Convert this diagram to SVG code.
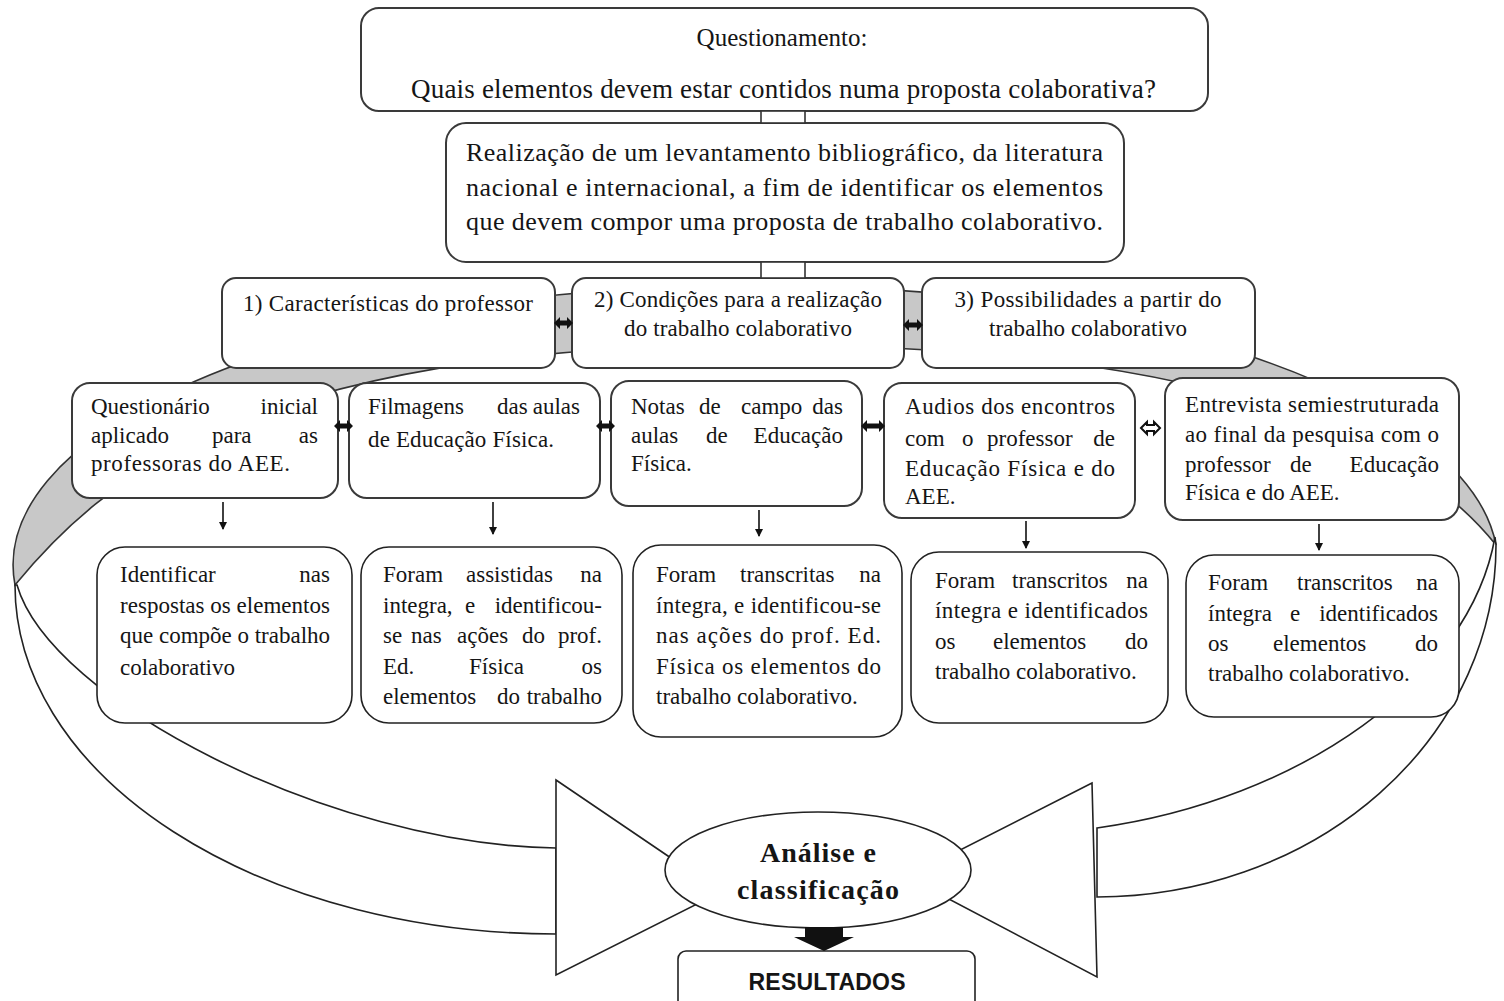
<svg xmlns="http://www.w3.org/2000/svg" width="1504" height="1001" viewBox="0 0 1504 1001">
<defs>
<marker id="ah" markerWidth="10" markerHeight="10" refX="8" refY="5" orient="auto" markerUnits="userSpaceOnUse" viewBox="0 0 10 10">
<path d="M1,1 L9,5 L1,9 Z" fill="#111"/>
</marker>
<style>
.box{fill:#fff;stroke:#3a3a3a;stroke-width:2}
.box2{fill:#fff;stroke:#222;stroke-width:1.6}
.t{font-family:"Liberation Serif","Times New Roman",serif;font-size:23px;fill:#151515}
.tb{font-family:"Liberation Serif","Times New Roman",serif;font-size:28px;font-weight:bold;fill:#151515}
.ts{font-family:"Liberation Sans",Arial,sans-serif;font-size:23px;font-weight:bold;fill:#151515}
.e{text-anchor:end}
.m{text-anchor:middle}
.ln{fill:#fff;stroke:#222;stroke-width:1.6}
.dn{stroke:#111;stroke-width:1.6;fill:none}
.dbl{fill:#111}
</style>
</defs>
<rect width="1504" height="1001" fill="#fff"/>

<g id="ring">
<path d="M 15 585 A 742 280 0 1 1 1496 545 C 1424 455, 1250 345, 757 345 C 250 345, 99 483, 15 585 Z" fill="#c8c8c8" stroke="#333" stroke-width="1.6"/>
<path class="ln" d="M 15 585 A 541 349 0 0 0 556 934 L 556 848 C 330 845, 50 700, 17 585 Z"/>
<path class="ln" d="M 1496 545 A 400 352 0 0 1 1097 897 L 1097 828 C 1300 800, 1470 680, 1495 537 Z"/>
</g>

<g id="bowtie">
<polygon class="ln" points="556,780 721,892 556,975"/>
<polygon class="ln" points="1092,783 907,877 1097,977"/>
</g>

<g id="n-questionamento">
<rect class="box" x="361" y="8" width="847" height="103" rx="18"/>
<text class="t m" x="782" y="46" style="font-size:25px">Questionamento:</text>
<text class="t" x="411" y="98" style="font-size:27px" textLength="745">Quais elementos devem estar contidos numa proposta colaborativa?</text>
</g>

<g id="n-levantamento">
<rect class="box" x="446" y="123" width="678" height="139" rx="20"/>
<text class="t" x="466" y="161" style="font-size:26px" textLength="637">Realização de um levantamento bibliográfico, da literatura</text>
<text class="t" x="466" y="196" style="font-size:26px" textLength="637">nacional e internacional, a fim de identificar os elementos</text>
<text class="t" x="466" y="230" style="font-size:26px" textLength="637">que devem compor uma proposta de trabalho colaborativo.</text>
</g>

<g id="n-caracteristicas">
<rect class="box" x="222" y="278" width="333" height="90" rx="14"/>
<text class="t" x="243" y="311" textLength="290">1) Características do professor</text>
</g>
<g id="n-condicoes">
<rect class="box" x="572" y="278" width="332" height="90" rx="14"/>
<text class="t m" x="738" y="307" textLength="288">2) Condições para a realização</text>
<text class="t m" x="738" y="336" textLength="228">do trabalho colaborativo</text>
</g>
<g id="n-possibilidades">
<rect class="box" x="922" y="278" width="333" height="90" rx="14"/>
<text class="t m" x="1088" y="307" textLength="267">3) Possibilidades a partir do</text>
<text class="t m" x="1088" y="336" textLength="198">trabalho colaborativo</text>
</g>

<g id="n-questionario">
<rect class="box" x="72" y="383" width="266" height="115" rx="18"/>
<text class="t" y="414"><tspan x="91">Questionário</tspan><tspan class="e" x="318">inicial</tspan></text>
<text class="t" y="443"><tspan x="91">aplicado</tspan><tspan x="212">para</tspan><tspan class="e" x="318">as</tspan></text>
<text class="t" x="91" y="471" textLength="199">professoras do AEE.</text>
</g>
<g id="n-filmagens">
<rect class="box" x="349" y="383" width="251" height="115" rx="18"/>
<text class="t" y="414"><tspan x="368">Filmagens</tspan><tspan x="497">das</tspan><tspan class="e" x="580">aulas</tspan></text>
<text class="t" x="368" y="447" textLength="186">de Educação Física.</text>
</g>
<g id="n-notas">
<rect class="box" x="611" y="381" width="251" height="125" rx="18"/>
<text class="t" y="414"><tspan x="631">Notas</tspan><tspan x="699">de</tspan><tspan x="741">campo</tspan><tspan class="e" x="843">das</tspan></text>
<text class="t" y="443"><tspan x="631">aulas</tspan><tspan x="706">de</tspan><tspan class="e" x="843">Educação</tspan></text>
<text class="t" x="631" y="471">Física.</text>
</g>
<g id="n-audios">
<rect class="box" x="884" y="383" width="251" height="135" rx="18"/>
<text class="t" x="905" y="414" textLength="210">Audios dos encontros</text>
<text class="t" y="446"><tspan x="905">com</tspan><tspan x="962">o</tspan><tspan x="987">professor</tspan><tspan class="e" x="1115">de</tspan></text>
<text class="t" x="905" y="476" textLength="210">Educação Física e do</text>
<text class="t" x="905" y="504">AEE.</text>
</g>
<g id="n-entrevista">
<rect class="box" x="1165" y="378" width="294" height="142" rx="18"/>
<text class="t" x="1185" y="412" textLength="254">Entrevista semiestruturada</text>
<text class="t" x="1185" y="442" textLength="254">ao final da pesquisa com o</text>
<text class="t" y="472"><tspan x="1185">professor</tspan><tspan x="1290">de</tspan><tspan class="e" x="1439">Educação</tspan></text>
<text class="t" x="1185" y="500">Física e do AEE.</text>
</g>

<g id="n-identificar">
<rect class="box2" x="97" y="547" width="255" height="176" rx="28"/>
<text class="t" y="582"><tspan x="120">Identificar</tspan><tspan class="e" x="330">nas</tspan></text>
<text class="t" x="120" y="613" textLength="210">respostas os elementos</text>
<text class="t" x="120" y="643" textLength="210">que compõe o trabalho</text>
<text class="t" x="120" y="675">colaborativo</text>
</g>
<g id="n-assistidas">
<rect class="box2" x="361" y="547" width="261" height="176" rx="28"/>
<text class="t" y="582"><tspan x="383">Foram</tspan><tspan x="466">assistidas</tspan><tspan class="e" x="602">na</tspan></text>
<text class="t" y="613"><tspan x="383">integra,</tspan><tspan x="465">e</tspan><tspan class="e" x="602">identificou-</tspan></text>
<text class="t" y="643"><tspan x="383">se</tspan><tspan x="411">nas</tspan><tspan x="457">ações</tspan><tspan x="522">do</tspan><tspan class="e" x="602">prof.</tspan></text>
<text class="t" y="674"><tspan x="383">Ed.</tspan><tspan x="469">Física</tspan><tspan class="e" x="602">os</tspan></text>
<text class="t" y="704"><tspan x="383">elementos</tspan><tspan x="497">do</tspan><tspan class="e" x="602">trabalho</tspan></text>
</g>
<g id="n-transcritas">
<rect class="box2" x="633" y="545" width="269" height="192" rx="28"/>
<text class="t" y="582"><tspan x="656">Foram</tspan><tspan x="740">transcritas</tspan><tspan class="e" x="881">na</tspan></text>
<text class="t" x="656" y="613" textLength="225">íntegra, e identificou-se</text>
<text class="t" x="656" y="643" textLength="225">nas ações do prof. Ed.</text>
<text class="t" x="656" y="674" textLength="225">Física os elementos do</text>
<text class="t" x="656" y="704">trabalho colaborativo.</text>
</g>
<g id="n-transcritos-audios">
<rect class="box2" x="911" y="552" width="257" height="171" rx="28"/>
<text class="t" y="588"><tspan x="935">Foram</tspan><tspan x="1012">transcritos</tspan><tspan class="e" x="1148">na</tspan></text>
<text class="t" x="935" y="618" textLength="213">íntegra e identificados</text>
<text class="t" y="649"><tspan x="935">os</tspan><tspan x="993">elementos</tspan><tspan class="e" x="1148">do</tspan></text>
<text class="t" x="935" y="679">trabalho colaborativo.</text>
</g>
<g id="n-transcritos-entrevista">
<rect class="box2" x="1186" y="555" width="273" height="162" rx="28"/>
<text class="t" y="590"><tspan x="1208">Foram</tspan><tspan x="1297">transcritos</tspan><tspan class="e" x="1438">na</tspan></text>
<text class="t" y="621"><tspan x="1208">íntegra</tspan><tspan x="1290">e</tspan><tspan class="e" x="1438">identificados</tspan></text>
<text class="t" y="651"><tspan x="1208">os</tspan><tspan x="1273">elementos</tspan><tspan class="e" x="1438">do</tspan></text>
<text class="t" x="1208" y="681">trabalho colaborativo.</text>
</g>

<g id="n-analise">
<ellipse class="ln" cx="818" cy="870" rx="153" ry="58"/>
<text class="tb m" x="818" y="862" textLength="116">Análise e</text>
<text class="tb m" x="818" y="899" textLength="162">classificação</text>
</g>

<g id="n-resultados">
<rect class="box2" x="678" y="951" width="297" height="70" rx="8"/>
<text class="ts m" x="827" y="990" textLength="157">RESULTADOS</text>
</g>

<g id="connectors">
<rect x="761" y="111" width="44" height="12" fill="#fff" stroke="#333" stroke-width="1.6"/>
<rect x="761" y="262" width="44" height="16" fill="#fff" stroke="#333" stroke-width="1.6"/>
<path class="dbl" d="M554,323 l6,-6 v3.5 h7 v-3.5 l6,6 l-6,6 v-3.5 h-7 v3.5 Z"/>
<path class="dbl" d="M903,325 l6,-6 v3.5 h8 v-3.5 l6,6 l-6,6 v-3.5 h-8 v3.5 Z"/>
<path class="dbl" d="M334,426 l6,-6 v3.5 h7 v-3.5 l6,6 l-6,6 v-3.5 h-7 v3.5 Z"/>
<path class="dbl" d="M596,426 l6,-6 v3.5 h7 v-3.5 l6,6 l-6,6 v-3.5 h-7 v3.5 Z"/>
<path class="dbl" d="M861,426 l6,-6 v3.5 h12 v-3.5 l6,6 l-6,6 v-3.5 h-12 v3.5 Z"/>
<path d="M1141,428 l6,-6 v3 h7 v-3 l6,6 l-6,6 v-3 h-7 v3 Z" fill="#fff" stroke="#111" stroke-width="2"/>
<line class="dn" x1="223" y1="502" x2="223" y2="529" marker-end="url(#ah)"/>
<line class="dn" x1="493" y1="502" x2="493" y2="534" marker-end="url(#ah)"/>
<line class="dn" x1="759" y1="510" x2="759" y2="536" marker-end="url(#ah)"/>
<line class="dn" x1="1026" y1="521" x2="1026" y2="548" marker-end="url(#ah)"/>
<line class="dn" x1="1319" y1="524" x2="1319" y2="550" marker-end="url(#ah)"/>
<polygon points="805,927 843,927 843,937 854,937 824,951 794,937 805,937" fill="#111"/>
</g>
</svg>
